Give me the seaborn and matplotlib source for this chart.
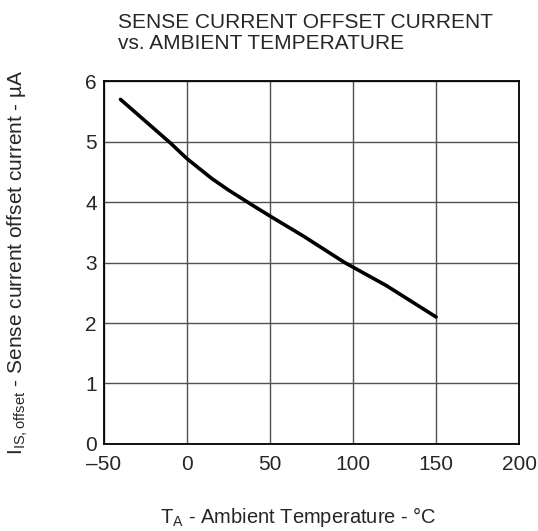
import numpy as np
import pandas as pd
import matplotlib
matplotlib.use("Agg")
import matplotlib.pyplot as plt
import seaborn as sns

# Curve
temp_c = [-40, -30, -20, -10, 0, 15, 25, 40, 50, 70, 95, 120, 150]
offset_ua = [5.70, 5.46, 5.22, 4.98, 4.72, 4.39, 4.20, 3.94, 3.77, 3.44, 3.00, 2.62, 2.10]

x_ticks = [-50, 0, 50, 100, 150, 200]
y_ticks = [0, 1, 2, 3, 4, 5, 6]

df = pd.DataFrame({"temp": temp_c, "offset": offset_ua})

sns.set_style("white")
plt.rcParams["font.family"] = ["Liberation Sans", "DejaVu Sans"]
plt.rcParams["mathtext.fontset"] = "custom"
plt.rcParams["mathtext.rm"] = "Liberation Sans"

fig = plt.figure(figsize=(5.38, 5.31), dpi=100)
ax = fig.add_axes([0.193, 0.164, 0.772, 0.683])

sns.lineplot(data=df, x="temp", y="offset", ax=ax, color="black", linewidth=2.6)

ax.set_xlim(-50, 200)
ax.set_ylim(0, 6)
ax.set_xticks(x_ticks)
ax.set_yticks(y_ticks)
ax.set_xticklabels(["\u201350" if t < 0 else str(t) for t in x_ticks])
ax.tick_params(length=0, labelsize=15)
ax.tick_params(axis="x", pad=8)
ax.tick_params(axis="y", pad=5)
ax.grid(True, color="#505050", linewidth=1.0)
for s in ax.spines.values():
    s.set_color("black")
    s.set_linewidth(1.3)

ax.set_xlabel("T$_\\mathregular{A}$ - Ambient Temperature - °C", fontsize=14.5, va="top")
ax.xaxis.set_label_coords(0.467, -0.168)
ax.set_ylabel("I$_\\mathregular{IS,offset}$ - Sense current offset current - µA", fontsize=15)
ax.yaxis.set_label_coords(-0.178, 0.5)

fig.text(0.219, 0.975, "SENSE CURRENT OFFSET CURRENT\nvs. AMBIENT TEMPERATURE",
         ha="left", va="top", fontsize=15, linespacing=1.12)

fig.savefig("out.png", dpi=100)
